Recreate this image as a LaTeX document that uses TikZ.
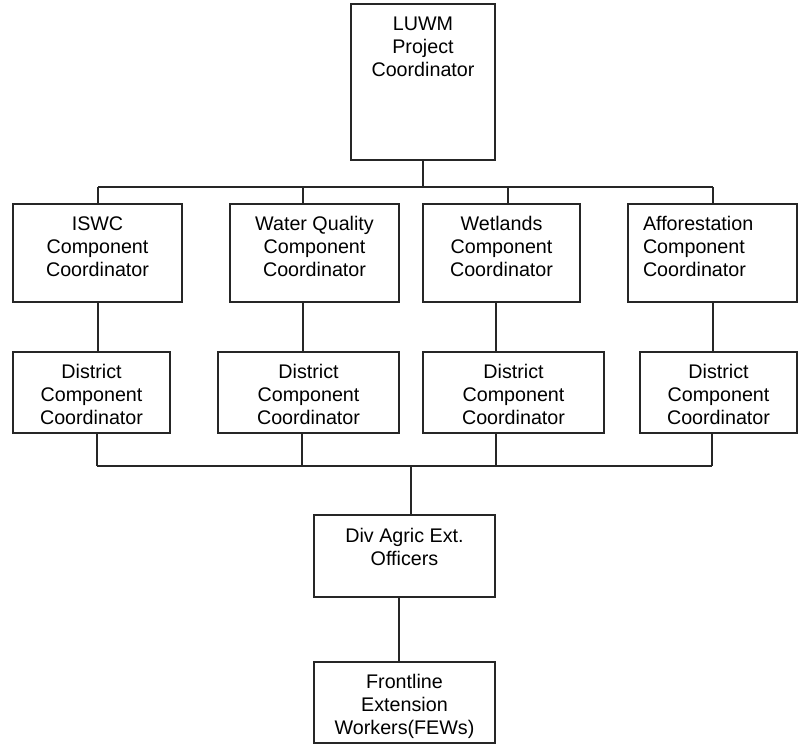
\documentclass[tikz,border=0pt]{standalone}
\usepackage{fontspec}
\setmainfont{Liberation Sans}
\begin{document}
\begin{tikzpicture}[x=1pt,y=-1pt,
  box/.style={draw=black!85,line width=1.3pt,inner sep=0pt,outer sep=0pt},
  txt/.style={inner sep=0pt,outer sep=0pt,align=center,anchor=north,font=\fontsize{19.7}{23}\selectfont},
  conn/.style={draw=black!85,line width=1.3pt}]
\useasboundingbox (0,0) rectangle (801,750);
% boxes
\node[box,minimum width=144pt,minimum height=156pt] (top) at (423,82) {};
\node[box,minimum width=169pt,minimum height=98pt] (iswc) at (97.5,253) {};
\node[box,minimum width=169pt,minimum height=98pt] (wq) at (314.5,253) {};
\node[box,minimum width=157pt,minimum height=98pt] (wet) at (501.5,253) {};
\node[box,minimum width=169pt,minimum height=98pt] (aff) at (712.5,253) {};
\node[box,minimum width=157pt,minimum height=81pt] (d1) at (91.5,392.5) {};
\node[box,minimum width=181pt,minimum height=81pt] (d2) at (308.5,392.5) {};
\node[box,minimum width=181pt,minimum height=81pt] (d3) at (513.5,392.5) {};
\node[box,minimum width=157pt,minimum height=81pt] (d4) at (718.5,392.5) {};
\node[box,minimum width=181pt,minimum height=82pt] (div) at (404.5,556) {};
\node[box,minimum width=181pt,minimum height=81pt] (few) at (404.5,702.5) {};
% texts
\node[txt] (ttop) at (423,17) {LUWM\\Project\\Coordinator};
\node[txt] (tiswc) at (97.5,216.5) {ISWC\\Component\\Coordinator};
\node[txt] (twq) at (314.5,216.5) {Water Quality\\Component\\Coordinator};
\node[txt] (twet) at (501.5,216.5) {Wetlands\\Component\\Coordinator};
\node[txt,align=left,anchor=north west] (taff) at (643,216.5) {Afforestation\\Component\\Coordinator};
\node[txt] (td1) at (91.5,364.5) {District\\Component\\Coordinator};
\node[txt] (td2) at (308.5,364.5) {District\\Component\\Coordinator};
\node[txt] (td3) at (513.5,364.5) {District\\Component\\Coordinator};
\node[txt] (td4) at (718.5,364.5) {District\\Component\\Coordinator};
\node[txt] (tdiv) at (404.5,528) {Div Agric Ext.\\Officers};
\node[txt] (tfew) at (404.5,674.5) {Frontline\\Extension\\Workers(FEWs)};
% bus coordinates
\coordinate (b1) at (98,187);
\coordinate (b2) at (303,187);
\coordinate (b3) at (508,187);
\coordinate (b4) at (713,187);
\coordinate (c3) at (496,0);
\coordinate (l1) at (97,466);
\coordinate (l2) at (302,466);
\coordinate (l3) at (496,466);
\coordinate (l4) at (712,466);
\coordinate (ld) at (411,466);
\coordinate (fd) at (399,0);
% upper bus
\draw[conn] (top.south) -- (top.south |- b1);
\draw[conn] (b1) -- (b4);
\draw[conn] (b1) -- (b1 |- iswc.north);
\draw[conn] (b2) -- (b2 |- wq.north);
\draw[conn] (b3) -- (b3 |- wet.north);
\draw[conn] (b4) -- (b4 |- aff.north);
% component to district
\draw[conn] (iswc.south -| b1) -- (d1.north -| b1);
\draw[conn] (wq.south -| b2) -- (d2.north -| b2);
\draw[conn] (wet.south -| c3) -- (d3.north -| c3);
\draw[conn] (aff.south -| b4) -- (d4.north -| b4);
% lower bus
\draw[conn] (d1.south -| l1) -- (l1);
\draw[conn] (d2.south -| l2) -- (l2);
\draw[conn] (d3.south -| l3) -- (l3);
\draw[conn] (d4.south -| l4) -- (l4);
\draw[conn] (l1) -- (l4);
\draw[conn] (ld) -- (div.north -| ld);
\draw[conn] (div.south -| fd) -- (few.north -| fd);
\end{tikzpicture}
\end{document}
